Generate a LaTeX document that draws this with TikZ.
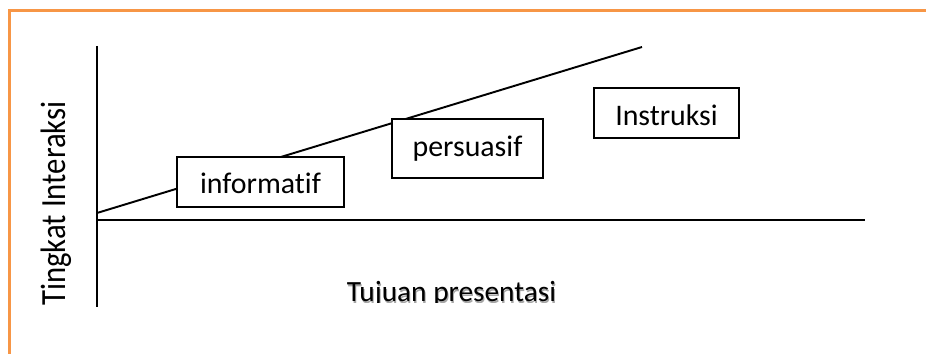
\documentclass[tikz,border=0pt]{standalone}
\usepackage{fontspec}
\setmainfont{Carlito}[RawFeature=-liga]
\usepackage{tikz}
\usetikzlibrary{positioning}
\definecolor{bingkai}{RGB}{247,150,70}
\tikzset{
  kotak/.style={draw,fill=white,line width=0.6pt,inner sep=0pt,font=\fontsize{17}{20}\selectfont},
  sumbu/.style={line width=1.1pt}
}

\begin{document}
\begin{tikzpicture}[x=0.02cm,y=-0.02cm]
\useasboundingbox (0,0) rectangle (926,354);
% bingkai oranye
\draw[bingkai,line width=1.4pt] (9.5,354) -- (9.5,10.5) -- (926,10.5);
% sumbu
\coordinate (atas) at (97,46);
\coordinate (bawah) at (97,307);
\coordinate (kiri) at (97,220);
\coordinate (kanan) at (865,220);
\draw[sumbu] (atas) -- (bawah);
\draw[sumbu] (kiri) -- (kanan);
% garis naik
\coordinate (awal) at (97,213);
\coordinate (akhir) at (642,47);
\draw[sumbu] (awal) -- (akhir);
% kotak
\node[kotak,minimum width=3.34cm,text height=0.74cm,text depth=0.26cm] (info) at (260.5,182) {informatif};
\node[kotak,minimum width=3.02cm,text height=0.76cm,text depth=0.42cm] (persuasi) at (467.5,148.5) {persuasif};
\node[kotak,minimum width=2.9cm,text height=0.76cm,text depth=0.24cm] (instruksi) at (666.5,113) {Instruksi};
% label sumbu
\node[rotate=90,yscale=1.15,anchor=base,font=\fontsize{17.5}{21}\selectfont] (labely) at (65,203.5) {Tingkat Interaksi};
\begin{scope}
\clip (300,250) rectangle (620,303);
\node[anchor=base,text=black!35,font=\fontsize{16.7}{20}\selectfont] at (452.5,303.5) {Tujuan presentasi};
\node[anchor=base,font=\fontsize{16.7}{20}\selectfont] (labelx) at (451.5,302) {Tujuan presentasi};
\end{scope}
\end{tikzpicture}
\end{document}
